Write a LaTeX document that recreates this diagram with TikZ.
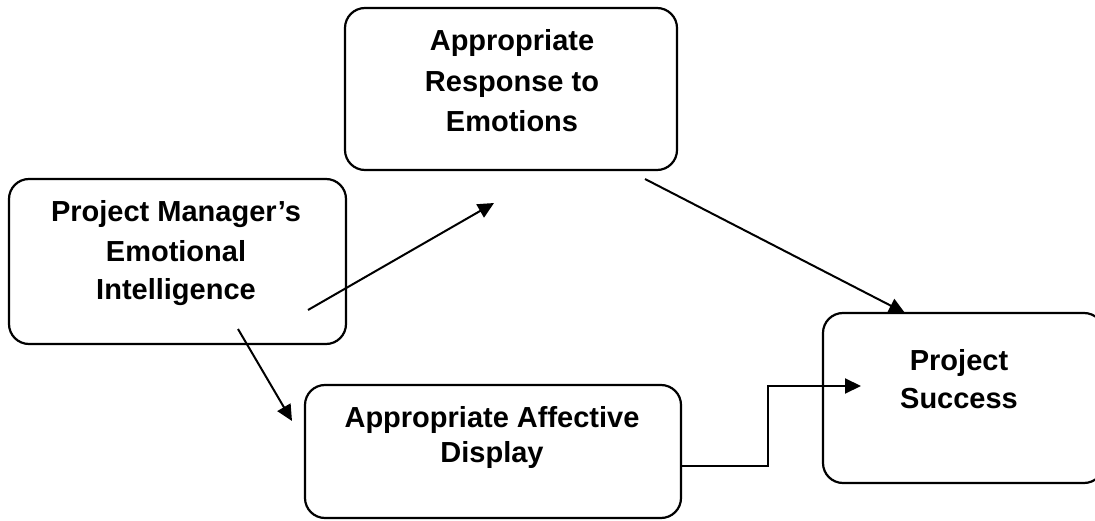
\documentclass[tikz,border=0pt]{standalone}
\usepackage{fontspec}
\setmainfont{Liberation Sans}
\usetikzlibrary{arrows.meta}
\begin{document}
\begin{tikzpicture}[x=1pt,y=-1pt,
  box/.style={draw, line width=2.2pt, rounded corners=20pt, inner sep=0pt, outer sep=0pt},
  lbl/.style={anchor=base, inner sep=0pt, font=\fontsize{29}{35}\selectfont\bfseries},
  arr/.style={line width=2pt, -{Triangle[length=16pt,width=15pt]}}]
\useasboundingbox (0,0) rectangle (1095,521);
\begin{scope}
\clip (0,0) rectangle (1095,521);
% boxes
\node[box, minimum width=332pt, minimum height=162pt] (A) at (511,89) {};
\node[box, minimum width=337pt, minimum height=165pt] (PM) at (177.5,261.5) {};
\node[box, minimum width=376pt, minimum height=133pt] (D) at (493,451.5) {};
\node[box, minimum width=281pt, minimum height=170pt] (S) at (963.5,398) {};
\end{scope}
% texts
\node[lbl] (a1) at (512,51) {Appropriate};
\node[lbl] (a2) at (512,92) {Response to};
\node[lbl] (a3) at (512,132) {Emotions};
\node[lbl] (p1) at (176,222) {Project Manager’s};
\node[lbl] (p2) at (176,262) {Emotional};
\node[lbl] (p3) at (176,300) {Intelligence};
\node[lbl] (d1) at (492,427) {Appropriate Affective};
\node[lbl] (d2) at (492,462) {Display};
\node[lbl] (s1) at (959,370) {Project};
\node[lbl] (s2) at (959,408) {Success};
% connector ends
\coordinate (c1s) at (308,310);
\coordinate (c1e) at (494,203);
\coordinate (c2s) at (238,329);
\coordinate (c2e) at (292,421);
\coordinate (c3s) at (645,179);
\coordinate (c3e) at (905,313);
\coordinate (c4m) at (768,386);
\coordinate (c4e) at (861,386);
% connectors
\draw[arr] (c1s) -- (c1e);
\draw[arr] (c2s) -- (c2e);
\draw[arr] (c3s) -- (c3e);
\draw[arr] (D.east |- 0,466) -| (c4m) -- (c4e);
\end{tikzpicture}
\end{document}
